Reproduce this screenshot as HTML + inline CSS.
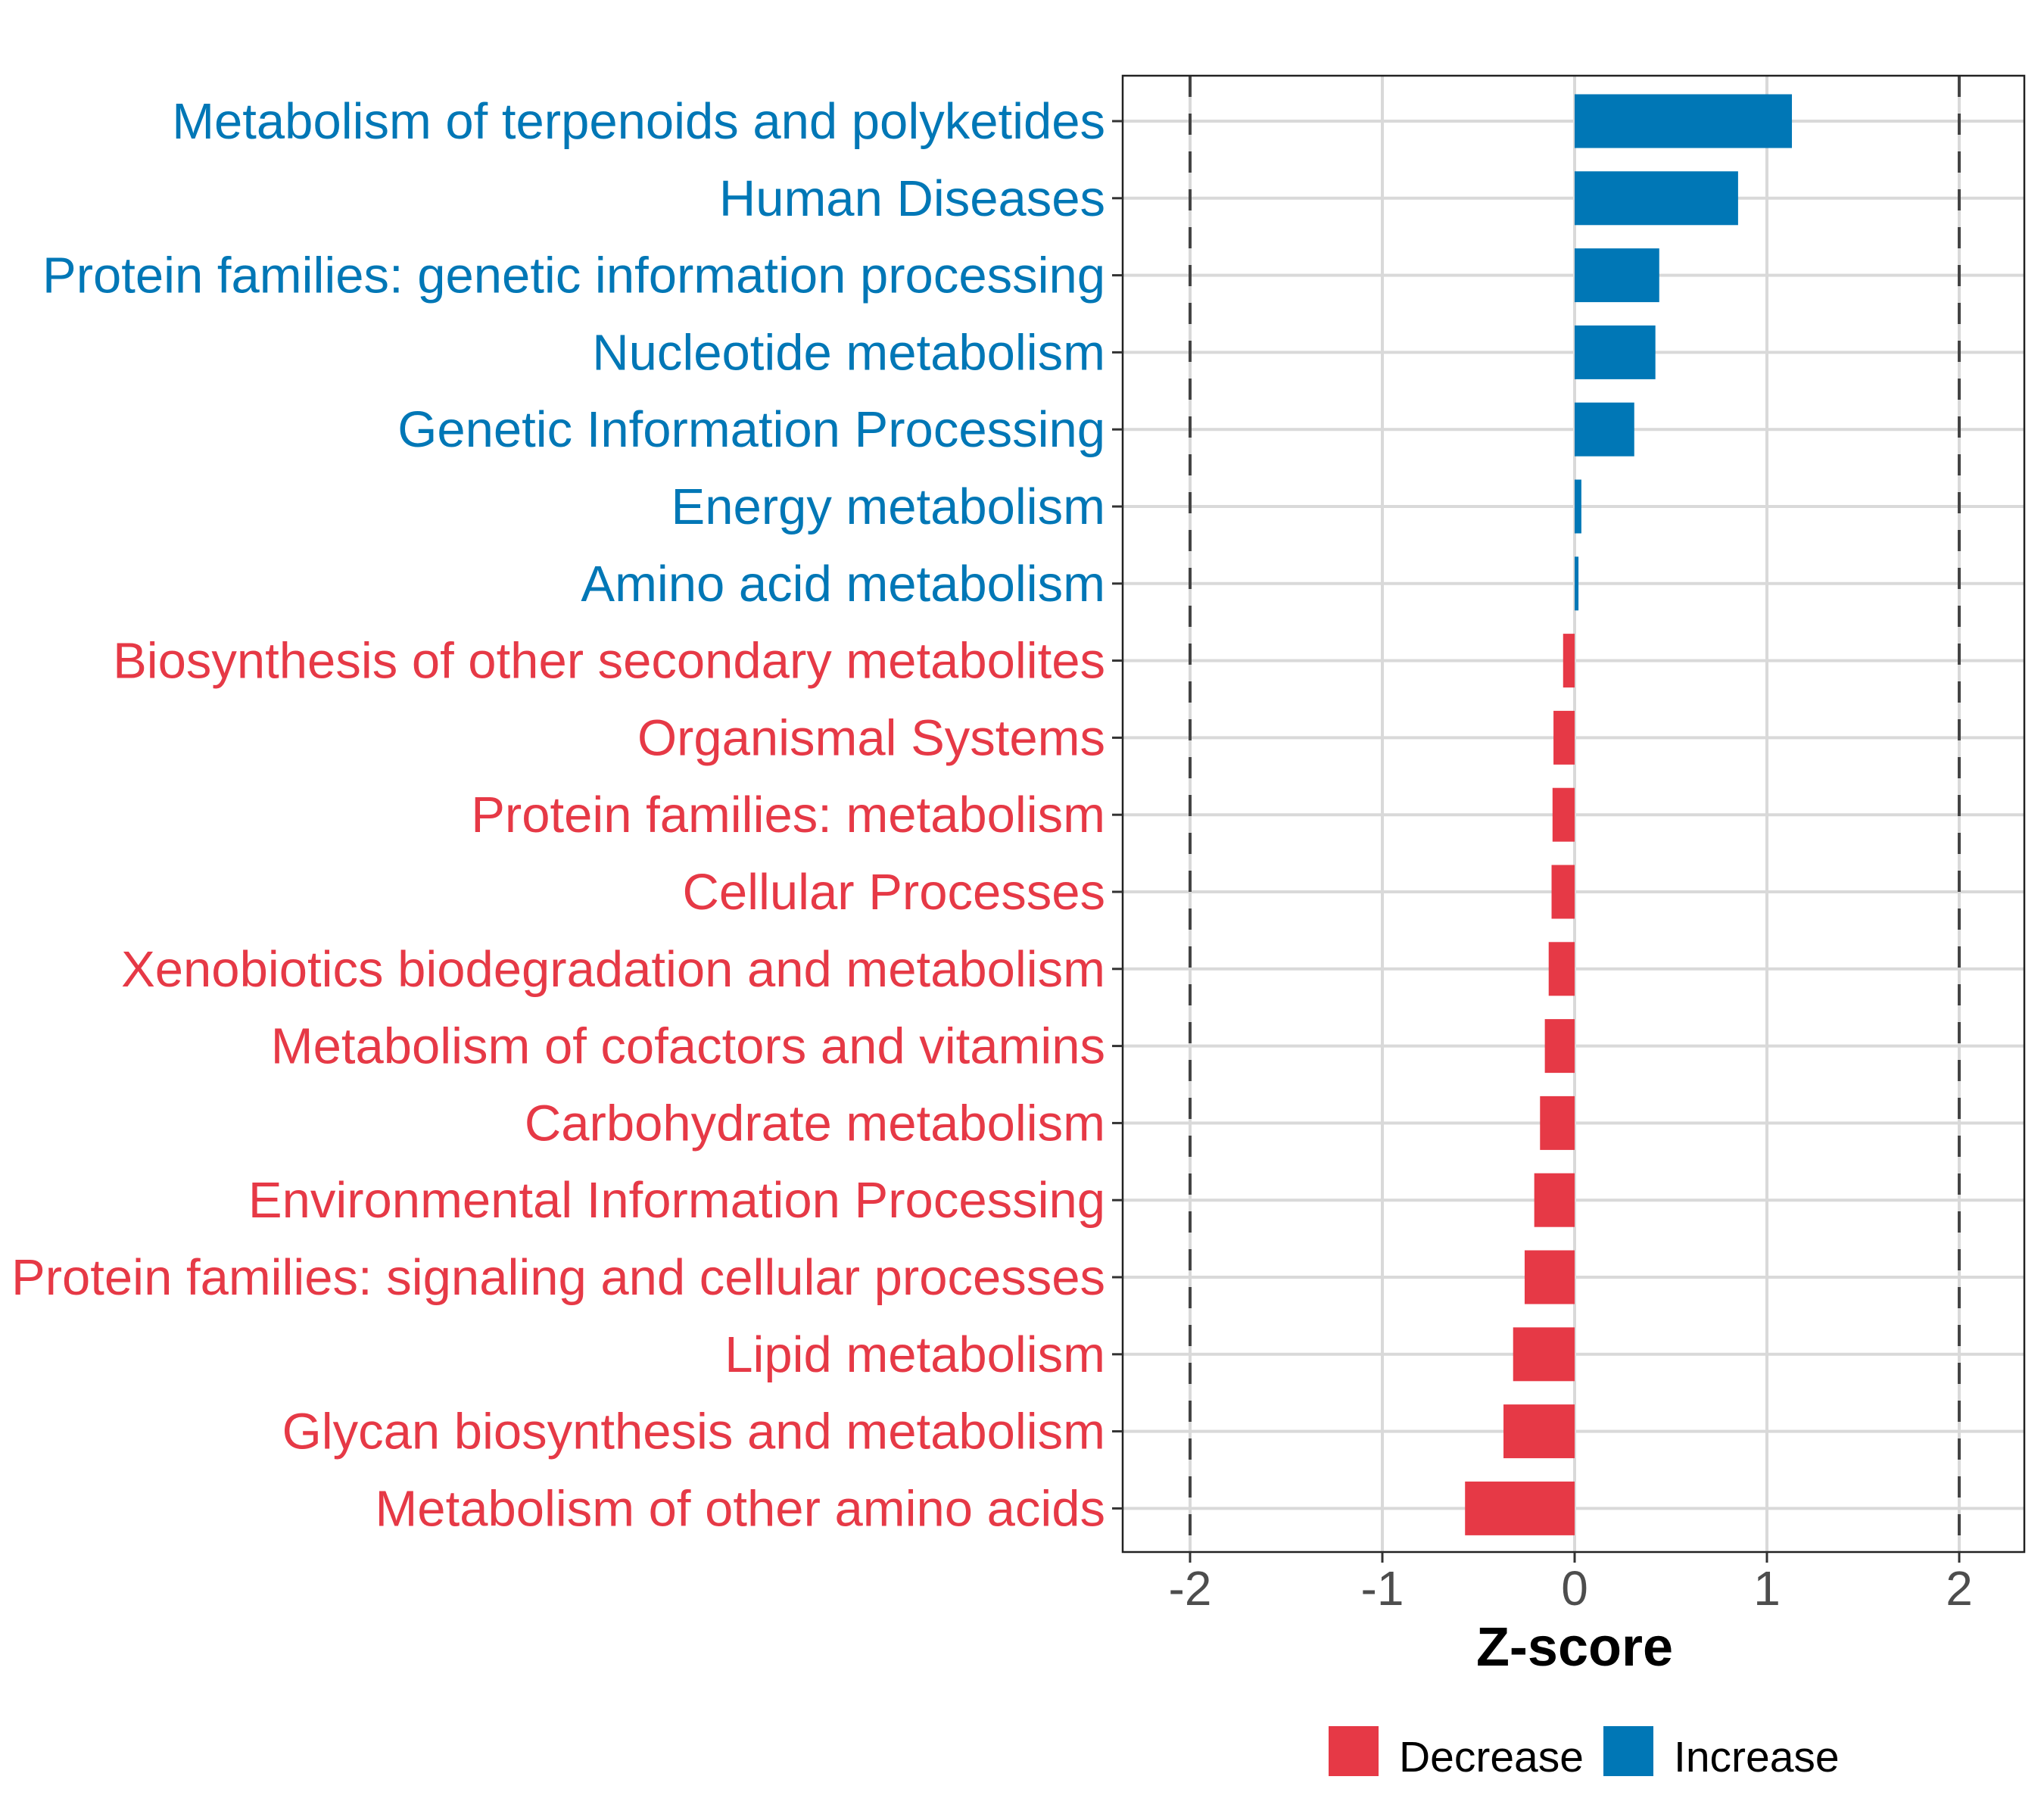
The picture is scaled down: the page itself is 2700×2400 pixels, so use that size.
<!DOCTYPE html>
<html><head><meta charset="utf-8"><style>
html,body{margin:0;padding:0;background:#fff;}
svg{display:block;font-family:"Liberation Sans",sans-serif;}
</style></head><body>
<svg id="chart" width="2700" height="2400" viewBox="0 0 2700 2400" xmlns="http://www.w3.org/2000/svg">
<rect x="0" y="0" width="2700" height="2400" fill="#fff"/>
<g id="grid"></g>
<g id="bars"></g>
<g id="refs"></g>
<rect x="1483" y="100" width="1191" height="1950" fill="none" stroke="#222" stroke-width="2.5"/>
<g id="ylabels"></g>
<g id="xticks"></g>
<text x="2080" y="2200" font-size="72" font-weight="bold" text-anchor="middle" fill="#000">Z-score</text>
<g>
<rect x="1755" y="2280" width="66" height="66" fill="#E63946"/>
<text x="1848" y="2340" font-size="57" fill="#000">Decrease</text>
<rect x="2118" y="2280" width="66" height="66" fill="#0077B6"/>
<text x="2211" y="2340" font-size="57" fill="#000">Increase</text>
</g>
</svg>
<script>
const categories = ["Metabolism of terpenoids and polyketides","Human Diseases","Protein families: genetic information processing","Nucleotide metabolism","Genetic Information Processing","Energy metabolism","Amino acid metabolism","Biosynthesis of other secondary metabolites","Organismal Systems","Protein families: metabolism","Cellular Processes","Xenobiotics biodegradation and metabolism","Metabolism of cofactors and vitamins","Carbohydrate metabolism","Environmental Information Processing","Protein families: signaling and cellular processes","Lipid metabolism","Glycan biosynthesis and metabolism","Metabolism of other amino acids"];
const zscores = [1.13,0.85,0.44,0.42,0.31,0.035,0.02,-0.06,-0.11,-0.115,-0.12,-0.135,-0.155,-0.18,-0.21,-0.26,-0.32,-0.37,-0.57];
const xTicks = [-2,-1,0,1,2];
const xTickLabels = ["-2","-1","0","1","2"];
const thresholds = [-2,2];

const NS="http://www.w3.org/2000/svg";
const X0=2080, XU=254, Y0=160, DY=101.8, BH=71;
const xs = v => X0 + v*XU;
const ys = i => Y0 + i*DY;
function mk(tag, attrs, parent){const e=document.createElementNS(NS,tag);for(const k in attrs)e.setAttribute(k,attrs[k]);parent.appendChild(e);return e;}
const grid=document.getElementById('grid'), bars=document.getElementById('bars'), refs=document.getElementById('refs'), yl=document.getElementById('ylabels'), xt=document.getElementById('xticks');
xTicks.forEach((t,i)=>{
  const g=mk('line',{x1:xs(t),x2:xs(t),y1:100,y2:2050,stroke:'#d9d9d9','stroke-width':4},grid);
  
  
  const tk=mk('line',{x1:xs(t),x2:xs(t),y1:2050,y2:2064,stroke:'#333','stroke-width':3},xt);
  
  
  const tl=mk('text',{x:xs(t),y:2120,'font-size':64,'text-anchor':'middle',fill:'#4d4d4d'},xt);
  tl.textContent=xTickLabels[i];
  
  
});
categories.forEach((c,i)=>{
  const y=ys(i), v=zscores[i];
  const col = v>=0 ? '#0077B6' : '#E63946';
  const gl=mk('line',{x1:1483,x2:2674,y1:y,y2:y,stroke:'#d9d9d9','stroke-width':4},grid);
  
  
  const r=mk('rect',{x:Math.min(xs(0),xs(v)),y:y-BH/2,width:Math.abs(xs(v)-xs(0)),height:BH,fill:col},bars);
  
  
  const tk=mk('line',{x1:1469,x2:1483,y1:y,y2:y,stroke:'#333','stroke-width':3},yl);
  
  
  const t=mk('text',{x:1460,y:y+23,'font-size':67,'text-anchor':'end',fill:col},yl);
  t.textContent=c;
  
  
});
thresholds.forEach(t=>{
  const l=mk('line',{x1:xs(t),x2:xs(t),y1:100,y2:2050,stroke:'#444','stroke-width':4,'stroke-dasharray':'28,22'},refs);
  
  
});
</script>
</body></html>
